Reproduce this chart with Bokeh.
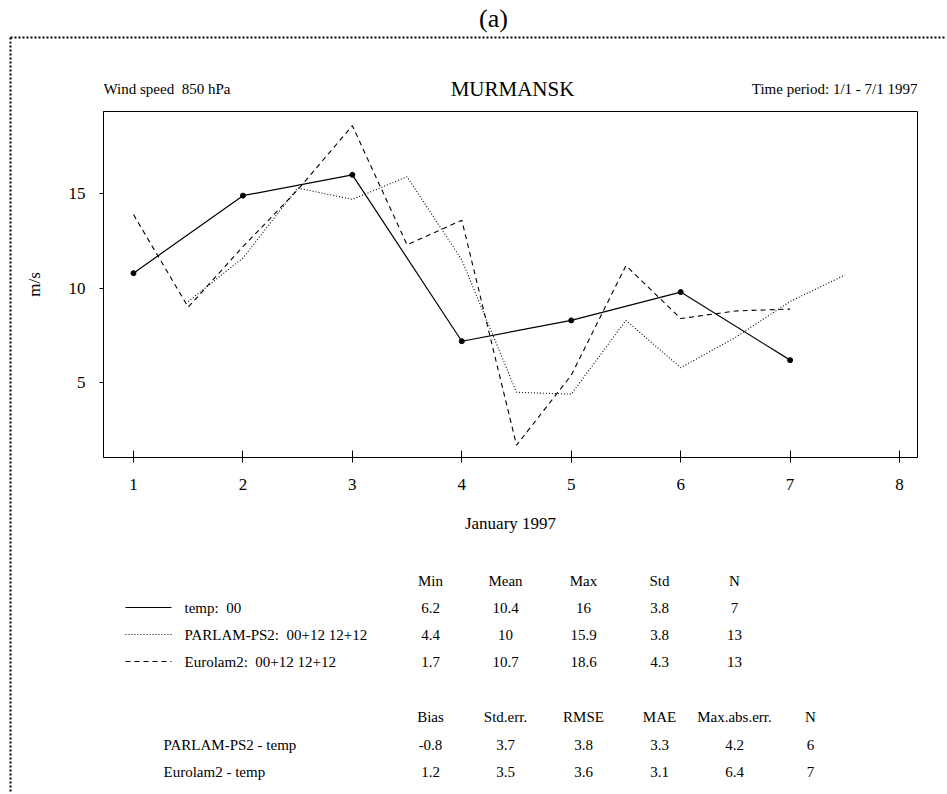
from bokeh.plotting import figure
from bokeh.layouts import column, row
from bokeh.models import Range1d, FixedTicker
from bokeh.core.properties import value
from bokeh.embed import file_html
from bokeh.resources import INLINE

# ---------------- data ----------------
panel_tag = "(a)"
title_left = "Wind speed\u00a0 850 hPa"
title_mid = "MURMANSK"
title_right = "Time period: 1/1 - 7/1 1997"
x_title = "January 1997"
y_title = "m/s"

x_ticks = [1, 2, 3, 4, 5, 6, 7, 8]
y_ticks = [5, 10, 15]

temp_day = [1, 2, 3, 4, 5, 6, 7]
temp_val = [10.8, 14.9, 16.0, 7.2, 8.3, 9.8, 6.2]

parlam_day = [1.5, 2, 2.5, 3, 3.5, 4, 4.5, 5, 5.5, 6, 6.5, 7, 7.5]
parlam_val = [9.3, 11.6, 15.3, 14.7, 15.9, 11.5, 4.5, 4.4, 8.3, 5.8, 7.4, 9.3, 10.7]

eurolam_day = [1, 1.5, 2, 2.5, 3, 3.5, 4, 4.5, 5, 5.5, 6, 6.5, 7]
eurolam_val = [13.9, 9.0, 12.2, 15.2, 18.6, 12.3, 13.6, 1.7, 5.4, 11.2, 8.4, 8.8, 8.9]

series_names = ["temp:\u00a0 00", "PARLAM-PS2:\u00a0 00+12 12+12", "Eurolam2:\u00a0 00+12 12+12"]
stat_headers = ["Min", "Mean", "Max", "Std", "N"]
stat_min = ["6.2", "4.4", "1.7"]
stat_mean = ["10.4", "10", "10.7"]
stat_max = ["16", "15.9", "18.6"]
stat_std = ["3.8", "3.8", "4.3"]
stat_n = ["7", "13", "13"]

diff_names = ["PARLAM-PS2 - temp", "Eurolam2 - temp"]
diff_headers = ["Bias", "Std.err.", "RMSE", "MAE", "Max.abs.err.", "N"]
diff_bias = ["-0.8", "1.2"]
diff_stderr = ["3.7", "3.5"]
diff_rmse = ["3.8", "3.6"]
diff_mae = ["3.3", "3.1"]
diff_maxabs = ["4.2", "6.4"]
diff_n = ["6", "7"]

# ---------------- style / layout constants (page pixels) ----------------
FONT = "Liberation Serif"
SOLID = "solid"
DOTTED = "1 2"
DASHED = "5 4"
BORDER_DASH = "2 2"
PAGE_W = 946
STRIP_W = 12
INNER_W = PAGE_W - STRIP_W          # 934
FRAME_L, FRAME_R = 103, 917          # chart frame, page x
B_LEFT = FRAME_L - STRIP_W           # 91
B_RIGHT = PAGE_W - FRAME_R           # 29


def blank(w, h, x0, x1, y_top, y_bot, bl=0, br=0):
    f = figure(width=w, height=h, x_range=Range1d(x0, x1), y_range=Range1d(y_bot, y_top),
               x_axis_type=None, y_axis_type=None, toolbar_location=None,
               output_backend="svg", min_border_left=bl, min_border_right=br,
               min_border_top=0, min_border_bottom=0)
    f.outline_line_color = None
    f.grid.visible = False
    f.background_fill_color = "white"
    f.border_fill_color = "white"
    return f


def txt(f, xs, ys, texts, size, align="left"):
    f.text(x=xs, y=ys, text=texts, text_font=value(FONT), text_font_size=size,
           text_align=align, text_baseline="middle", text_color="black")


# top strip: "(a)" and top dotted border
top = blank(PAGE_W, 41, 0, PAGE_W, 0, 41)
top.line(x=[10, PAGE_W], y=[37, 37], line_color="black", line_width=2, line_dash=BORDER_DASH)
top.line(x=[10, 10], y=[37, 41], line_color="black", line_width=2, line_dash=BORDER_DASH)
txt(top, [493], [18], [panel_tag], "26px", "center")

# left strip: dotted border
strip = blank(STRIP_W, 751, 0, STRIP_W, 41, 792)
strip.line(x=[10, 10], y=[41, 792], line_color="black", line_width=2, line_dash=BORDER_DASH)

# header texts (frame aligned with chart frame)
head = blank(INNER_W, 62, FRAME_L, FRAME_R, 41, 103, B_LEFT, B_RIGHT)
txt(head, [103], [88], [title_left], "15px", "left")
txt(head, [512], [88], [title_mid], "21px", "center")
txt(head, [917], [88], [title_right], "15px", "right")

# chart
p = figure(width=INNER_W, height=445, x_range=Range1d(0.726, 8.164), y_range=Range1d(1.05, 19.35),
           min_border_left=B_LEFT, min_border_right=B_RIGHT, min_border_top=8, min_border_bottom=91,
           toolbar_location=None, output_backend="svg")
p.grid.visible = False
p.outline_line_color = "black"
p.outline_line_width = 1
p.background_fill_color = "white"
p.border_fill_color = "white"

p.line(temp_day, temp_val, line_color="black", line_width=1.2)
p.scatter(temp_day, temp_val, size=5, fill_color="black", line_color="black")
p.line(parlam_day, parlam_val, line_color="black", line_width=1.1, line_dash=DOTTED)
p.line(eurolam_day, eurolam_val, line_color="black", line_width=1.1, line_dash=DASHED)

p.xaxis.ticker = FixedTicker(ticks=x_ticks)
p.yaxis.ticker = FixedTicker(ticks=y_ticks)
for ax in (p.xaxis, p.yaxis):
    ax.minor_tick_line_color = None
    ax.axis_line_color = "black"
    ax.major_tick_line_color = "black"
    ax.major_label_text_font = FONT
    ax.major_label_text_font_size = "17px"
    ax.major_label_text_color = "black"
    ax.axis_label_text_font = FONT
    ax.axis_label_text_font_size = "17px"
    ax.axis_label_text_font_style = "normal"
    ax.axis_label_text_color = "black"
p.xaxis.major_tick_in = 7
p.xaxis.major_tick_out = 5
p.xaxis.major_label_standoff = 16
p.xaxis.axis_label = x_title
p.xaxis.axis_label_standoff = 21
p.yaxis.major_tick_in = 0
p.yaxis.major_tick_out = 4
p.yaxis.major_label_standoff = 14
p.yaxis.axis_label = y_title
p.yaxis.axis_label_standoff = 22

# tables (frame aligned with chart frame)
tab = blank(INNER_W, 244, FRAME_L, FRAME_R, 548, 792, B_LEFT, B_RIGHT)
cols = [430, 505, 583, 659, 734, 810]
rows1 = [607, 634, 661]
TS = "15px"
txt(tab, cols[:5], [580] * 5, stat_headers, TS, "center")
for dash, yy in zip([SOLID, DOTTED, DASHED], rows1):
    tab.line(x=[125, 171], y=[yy, yy], line_color="black", line_width=1.1, line_dash=dash)
txt(tab, [184] * 3, rows1, series_names, TS, "left")
for cx, vals in zip(cols[:5], [stat_min, stat_mean, stat_max, stat_std, stat_n]):
    txt(tab, [cx] * 3, rows1, vals, TS, "center")

rows2 = [744, 771]
txt(tab, cols, [716] * 6, diff_headers, TS, "center")
txt(tab, [163] * 2, rows2, diff_names, TS, "left")
for cx, vals in zip(cols, [diff_bias, diff_stderr, diff_rmse, diff_mae, diff_maxabs, diff_n]):
    txt(tab, [cx] * 2, rows2, vals, TS, "center")

layout = column(top, row(strip, column(head, p, tab)))
open("out.html", "w").write(file_html(layout, INLINE))
